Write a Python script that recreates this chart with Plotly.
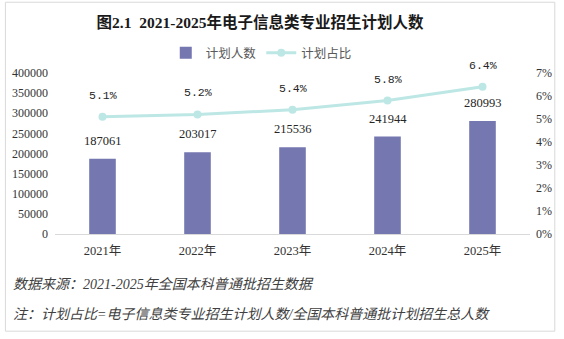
import plotly.graph_objects as go

years = ["2021年", "2022年", "2023年", "2024年", "2025年"]
plan_counts = [187061, 203017, 215536, 241944, 280993]
plan_ratio = [0.051, 0.052, 0.054, 0.058, 0.064]
ratio_labels = ["5.1%", "5.2%", "5.4%", "5.8%", "6.4%"]
left_ticks = list(range(0, 400001, 50000))
right_ticks = [0, 0.01, 0.02, 0.03, 0.04, 0.05, 0.06, 0.07]

BAR = "#7477B0"
LINE = "#BDE7E5"
TXT = "#404040"
SERIF = "Liberation Serif, Noto Sans CJK SC, serif"
CJK = "Noto Sans CJK SC, sans-serif"

W, H = 564, 339
L, R, T, B = 54, 533, 73, 234.5
pw, ph = R - L, B - T

def px(x):
    return (x - L) / pw

def py(y):
    return (B - y) / ph

fig = go.Figure()
fig.add_trace(go.Bar(
    x=years, y=plan_counts, name="计划人数",
    marker=dict(color=BAR, line=dict(width=0)),
    width=0.28, yaxis="y",
))
fig.add_trace(go.Scatter(
    x=years, y=plan_ratio, name="计划占比", yaxis="y2",
    mode="lines+markers",
    line=dict(color=LINE, width=3),
    marker=dict(color=LINE, size=8),
))

annotations = []
for yr, v in zip(years, plan_counts):
    annotations.append(dict(x=yr, y=v, xref="x", yref="y", text=str(v),
                            showarrow=False, yanchor="bottom", yshift=9,
                            font=dict(family=SERIF, size=12.5, color="#262626")))
for yr, v, t in zip(years, plan_ratio, ratio_labels):
    annotations.append(dict(x=yr, y=v, xref="x", yref="y2", text=t,
                            showarrow=False, yanchor="bottom", yshift=13,
                            font=dict(family="Liberation Mono, monospace", size=11.5, color="#262626")))

annotations.append(dict(xref="paper", yref="paper", x=px(10), y=py(285),
                        xanchor="left", yanchor="middle", showarrow=False,
                        text="<i>数据来源：2021-2025年全国本科普通批招生数据</i>",
                        font=dict(family=SERIF, size=14, color=TXT)))
annotations.append(dict(xref="paper", yref="paper", x=px(10), y=py(315),
                        xanchor="left", yanchor="middle", showarrow=False,
                        text="<i>注：计划占比=电子信息类专业招生计划人数/全国本科普通批计划招生总人数</i>",
                        font=dict(family=SERIF, size=14, color=TXT)))

fig.update_layout(
    width=W, height=H,
    margin=dict(l=L, r=W - R, t=T, b=H - B),
    paper_bgcolor="white", plot_bgcolor="white",
    title=dict(text="<b>图2.1  2021-2025年电子信息类专业招生计划人数</b>",
               x=260 / W, xanchor="center", xref="container",
               y=1 - 23 / H, yanchor="middle", yref="container",
               font=dict(family=SERIF, size=15.5, color="#1a1a1a")),
    showlegend=True,
    legend=dict(orientation="h", x=px(262), xanchor="center", y=py(53), yanchor="middle",
                font=dict(family=CJK, size=12.5, color="#595959"),
                bgcolor="rgba(0,0,0,0)", itemwidth=30, tracegroupgap=0),
    xaxis=dict(type="category", showgrid=False, showline=True, linecolor="#D9D9D9", linewidth=1,
               ticks="", ticklabelstandoff=5, tickfont=dict(family=SERIF, size=12.5, color="#333333"),
               zeroline=False),
    yaxis=dict(range=[0, 400000], tickvals=left_ticks, ticktext=[str(v) for v in left_ticks],
               showgrid=False, zeroline=False, showline=False, ticks="", ticklabelstandoff=6,
               tickfont=dict(family=SERIF, size=12, color="#333333")),
    yaxis2=dict(range=[0, 0.07], overlaying="y", side="right", tickvals=right_ticks,
                ticktext=[f"{int(round(v*100))}%" for v in right_ticks],
                showgrid=False, zeroline=False, showline=False, ticks="", ticklabelstandoff=5,
                tickfont=dict(family=SERIF, size=12, color="#333333")),
    annotations=annotations,
    shapes=[dict(type="rect", xref="paper", yref="paper",
                 x0=px(4), x1=px(558), y0=py(332), y1=py(2),
                 line=dict(color="#D9D9D9", width=1), fillcolor="rgba(0,0,0,0)", layer="below")],
    bargap=0.72,
)

fig.write_html("out.html")
